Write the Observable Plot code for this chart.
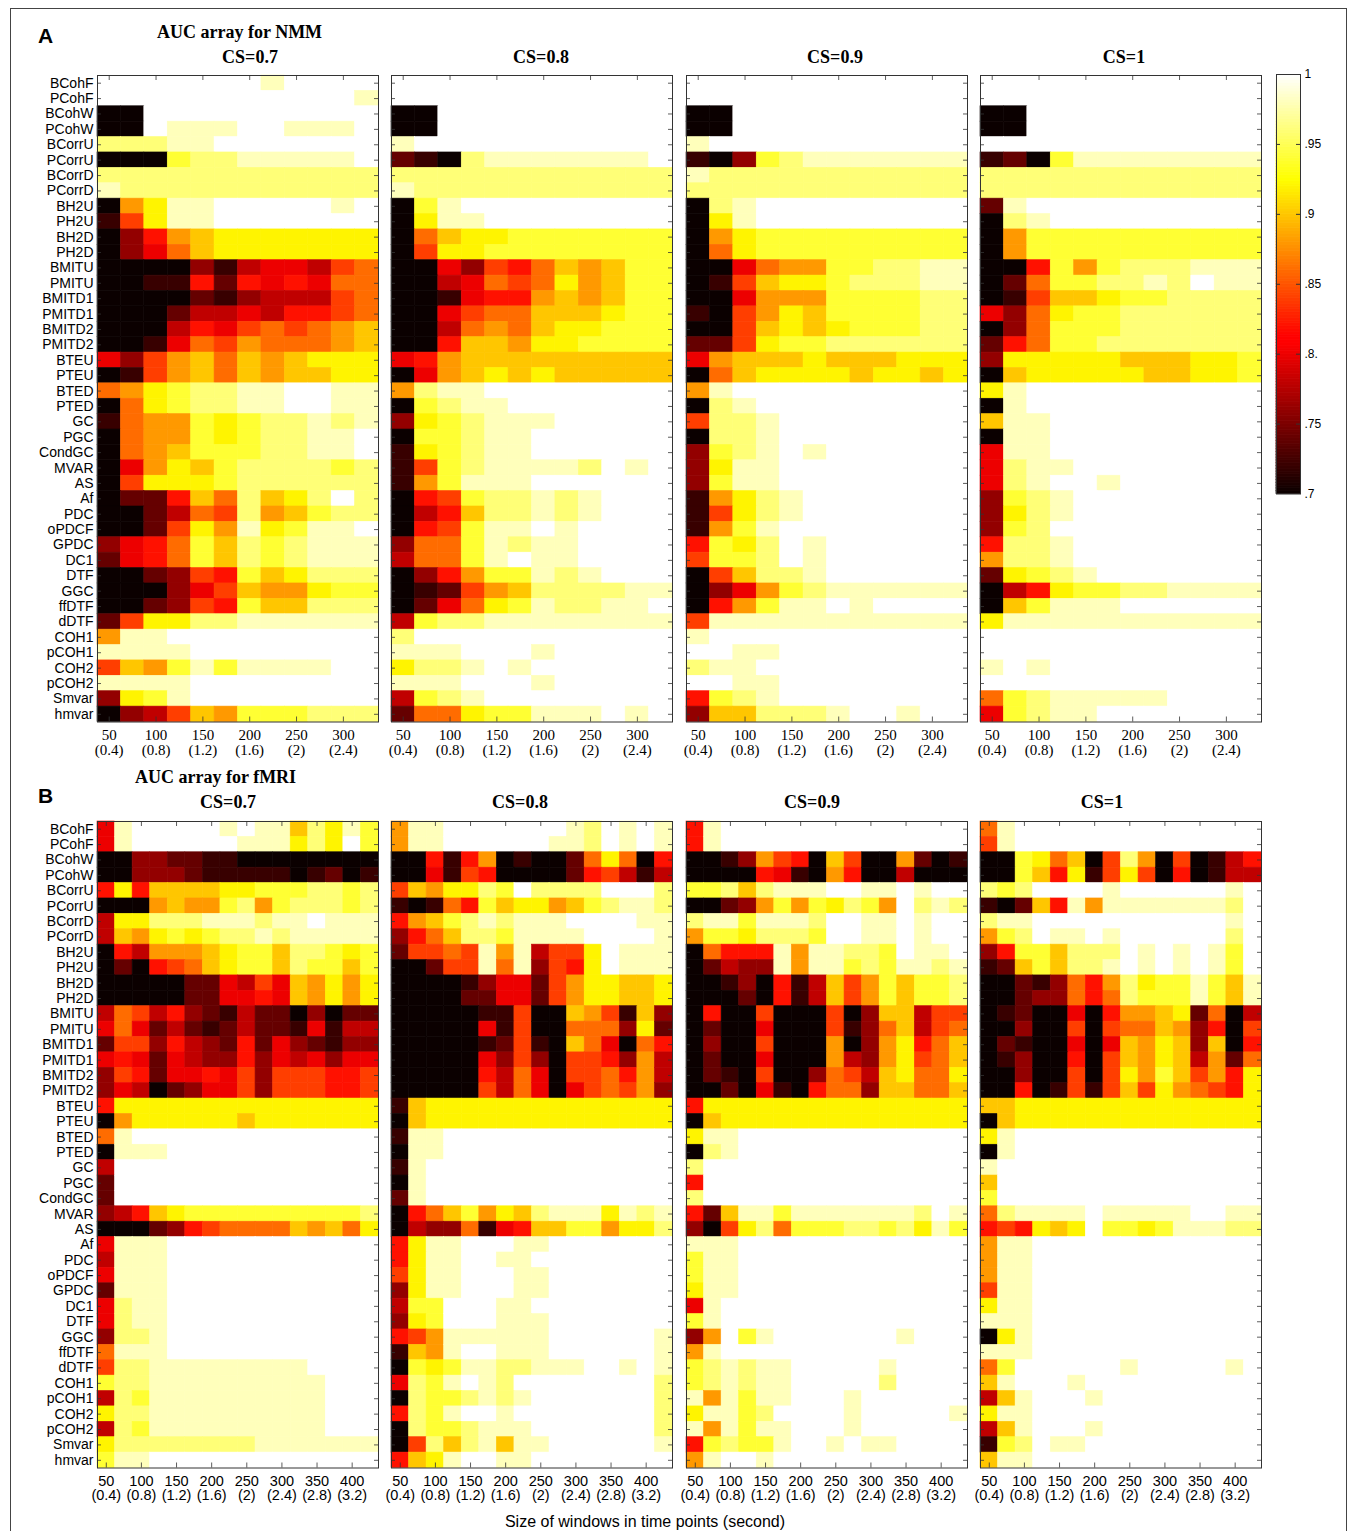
<!DOCTYPE html>
<html><head><meta charset="utf-8">
<script src="https://cdn.jsdelivr.net/npm/d3@7"></script>
<script src="https://cdn.jsdelivr.net/npm/@observablehq/plot@0.6"></script>
<style>
body{margin:0;background:#fff;}
#fig{position:relative;width:1356px;height:1531px;overflow:hidden;background:#fff;}
.abs{position:absolute;white-space:nowrap;line-height:1;}
.c{transform:translate(-50%,-50%);}
.l{transform:translate(0,-50%);}
.serifb{font-family:"Liberation Serif","Times New Roman",serif;font-weight:bold;}
.sans{font-family:"Liberation Sans",Arial,sans-serif;}
#border{position:absolute;left:10px;top:8px;width:1335px;height:1560px;border:1px solid #444;}
</style></head><body><div id="fig"><div id="border"></div></div>
<script>
// ---------------- data ----------------
const methods = ["BCohF","PCohF","BCohW","PCohW","BCorrU","PCorrU","BCorrD","PCorrD","BH2U","PH2U","BH2D","PH2D","BMITU","PMITU","BMITD1","PMITD1","BMITD2","PMITD2","BTEU","PTEU","BTED","PTED","GC","PGC","CondGC","MVAR","AS","Af","PDC","oPDCF","GPDC","DC1","DTF","GGC","ffDTF","dDTF","COH1","pCOH1","COH2","pCOH2","Smvar","hmvar"];
const csLevels = ["CS=0.7","CS=0.8","CS=0.9","CS=1"];
const winsA = [50,75,100,125,150,175,200,225,250,275,300,325];
const winsB = [50,75,100,125,150,175,200,225,250,275,300,325,350,375,400,425];
const ticksA = [50,100,150,200,250,300];
const ticksB = [50,100,150,200,250,300,350,400];
const secondsA = ["(0.4)","(0.8)","(1.2)","(1.6)","(2)","(2.4)"];
const secondsB = ["(0.4)","(0.8)","(1.2)","(1.6)","(2)","(2.4)","(2.8)","(3.2)"];
const cbTicks = [0.7,0.75,0.8,0.85,0.9,0.95,1];
const cbLabels = [".7",".75",".8.",".85",".9",".95","1"];
// AUC per cell, one hex digit per window: AUC = 0.70 + 0.02 * digit (0 -> .70, F -> 1.00)
const nmm07 = ["FFFFFFFEFFFF","FFFFFFFFFFFE","00FFFFFFFFFF","00FEEEFFEEEF","DDDEEFFFFFFF","000CDDEEEEEF","DDDDDDDDDDDD","EDDDDDDDDDDD","09BEEFFFFFEF","17BEEFFFFFFF","0369ABBBBBBB","0358ABBBBBBB","000031455478","001162656588","000021344478","000244546678","00046578789A","00158798889A","5379A8A9ABBB","0179A8A9AABB","89BCDDEEFFEE","08BCDDEEFFEE","1899CBCDDEDE","0899CBCDDEEF","089ACCCDDEEF","059BACDDDDCD","07BBBCDDDDDD","0226A8DABDFD","002487D9ACDD","0027B9EBCEEF","3568CADCDEEE","2568CADCDEEE","002376CABDDD","000357A99BCC","002376CAADDD","27BBDDEEEEEE","9EEFFFFFFFFF","EEEEFFFFFFFF","7A9CECEEEEFF","EEEEFFFFFFFF","3BCEFFFFFFFF","0347A9CCCDDD"];
const nmm08 = ["FFFFFFFFFFFF","FFFFFFFFFFFF","00FFFFFFFFFF","00FFFFFFFFFF","EFFFFFFFFFFF","210DEEEEEEEF","DDDDDDDDDDDD","EDDDDDDDDDDD","0CEFFFFFFFFF","0BEEFFFFFFFF","08ABBCCCCCCC","07BBCCCCCCCC","0053768A9ACC","0045878B9ACC","0015669A9ACC","005788AAABCC","004898ABBCCC","006AA9BBCCCC","569AAAAAAAAA","059ABABAAAAA","9DEEFFFFFFFF","0CDEEFFFFFFF","3BCDEEEFFFFF","0CCDEEFFFFFF","1BCDEEFFFFFF","17CDEEEEDFEF","19CEEEFFFFFF","067CDDEDEFFF","046ADDEDEFFF","067CEEFEFFFF","388CEDEEFFFF","488CEFEEFFFF","0369CCEDEFFF","01279ADDDDEE","0258BCEDDEEF","4CDDEEEEEEEE","DFFFFFFFFFFF","EEEFFFEFFFFF","BDDEFEFFFFFF","EEEFFFEFFFFF","4CDEFFFFFFFF","288BCCEEEFEF"];
const nmm09 = ["FFFFFFFFFFFF","FFFFFFFFFFFF","00FFFFFFFFFF","00FFFFFFFFFF","EFFFFFFFFFFF","103CDEEEEEEE","EDDDDDDDDDDD","DDDDDDDDDDDD","0DEFFFFFFFFF","0BEFFFFFFFFF","09BCCCCCCCCC","08BCCCCCCCCC","005899CCDDEE","017ABBCDDDEE","005999CCCCDD","1079BACCCCDD","007ABABCCCDD","227BCCDDDDDD","59AAABAAABBB","08ABBBBABBAB","9EFFFFFFFFFF","0DEFFFFFFFFF","7DDEFFFFFFFF","0DDEFFFFFFFF","3CDEFEFFFFFF","3BEEFFFFFFFF","3CEEFFFFFFFF","19BDEFFFFFFF","17BDEFFFFFFF","19CEFFFFFFFF","6CBDFEFFFFFF","7CCDFEFFFFFF","07ADDEFFFFFF","0359CDEEEEEE","069CEEFEFFFF","7EEEEEEEEEEE","EFFFFFFFFFFF","FFEEFFFFFFFF","DEEFFFFFFFFF","FFEEFFFFFFFF","6CDEFFFFFFFF","3AADDDEFFEFF"];
const nmm10 = ["FFFFFFFFFFFF","FFFFFFFFFFFF","00FFFFFFFFFF","00FFFFFFFFFF","FFFFFFFFFFFF","120CEEEEEEEE","DDDDDDDDDDDD","DDDDDDDDDDDD","2EFFFFFFFFFF","0DEFFFFFFFFF","09CCCCCCCCCC","09CCCCCCCCCC","006C9CDDDEEE","028CCDDEDFEE","017AABCCDDDD","538BCCDDDDDD","038CCCDDDDDD","268CCDDDDDDD","3BBBBBAAABBC","0ABBBBBAABBC","BEFFFFFFFFFF","0EFFFFFFFFFF","AEEFFFFFFFFF","0EEFFFFFFFFF","5EEFFFFFFFFF","5DEEFFFFFFFF","5DEFFEFFFFFF","3CDEFFFFFFFF","3BDEFFFFFFFF","3CDFFFFFFFFF","6DDEFFFFFFFF","9DDEFFFFFFFF","2BCDEFFFFFFF","046BCCDDEEEE","0ACEEEFFFFFF","BEEEEEEEEEEE","FFFFFFFFFFFF","FFFFFFFFFFFF","EFEFFFFFFFFF","FFFFFFFFFFFF","8CDEEEEEFFFF","5CDEEFFFFFFF"];
const fmri07 = ["5EFFFFFEFEEADBEC","5EFFFFFFEEEBDBFC","0033221100000000","0033321111101201","6B6AAAABBCCCDDCD","0009A99CD9CDDDCD","4BBDDDEEEDEEFEEE","4A9BCBCDDEDEEEEE","064999ABCCADDCBC","020678ABCCADCCAC","00000225475A9B9B","00000225565A9B9B","4874632142203022","5852421242215144","2773643262532133","5652543363545355","3762556573777667","3540235573777667","6BBBBBBBBBBBBBBB","09BBBBBBABBBBBBB","8EFFFFFFFFFFFFFF","0EEEFFFFFFFFFFFF","4FFFFFFFFFFFFFFF","2FFFFFFFFFFFFFFF","2FFFFFFFFFFFFFFF","346ABCCCCCCCCCCD","00023678888A9A8B","5EEEFFFFFFFFFFFF","4EEEFFFFFFFFFFFF","5EEEFFFFFFFFFFFF","2EEEFFFFFFFFFFFF","5DEEFFFFFFFFFFFF","5DEEFFFFFFFFFFFF","3DDEFFFFFFFFFFFF","8EEEFFFFFFFFFFFF","7DDEEEEEEEEEFFFF","CDDEEEEEEEEEEFFF","4DCEEEEEEEEEEFFF","BDDEEEEEEEEEEFFF","4DCEEEEEEEEEEFFF","BDDDDDDDDEEEEEEE","CEEFFFFFFFFFFFFF"];
const fmri08 = ["9EEFFFFFFFEDFEFE","9EEFFFFFFEEDFEFE","006169010028B806","0051760000267414","7A9BBDCFDDDDFFFD","10186CABB9ACDEED","69ACDEDEEEFFFFEE","368ADDCEEEEFFFFE","27787E9E477BFEEE","00277E8E376BFEEE","00001355279BBAAB","00002255279BBAAB","0000011700A971A3","00000517008883B2","0000012710A85086","0000053730776394","0000064850778694","0000074850578793","1ABBBBBBBBBBBBBB","0ABBBBBBBBBBBBBB","1EEFFFFFFFFFFFFF","0EEFFFFFFFFFFFFF","1EFFFFFFFFFFFFFF","0EFFFFFFFFFFFFFF","2EFFFFFFFFFFFFFF","068AC9BADEEEBEDE","04338156AACC9BBD","6BEEFFFEEFFFFFFF","6BEEFFEEFFFFFFFF","7BEEFFFEEFFFFFFF","3BEEFFFEEFFFFFFF","4CCFFFEEFFFFFFFF","3BCFFFEEEFFFFFFF","679EEEEEEFFFFFFE","1A9EFFEEEFFFFFFE","0CBCEEDDEEEFFEFE","5DCEFEDFFFFFFFFD","0DCCDEDEFFFFFFFD","6DCEFFEFFFFFFFFD","0DCCDEEEFFFFFFFD","07DADEAEEFFFFFFE","6ABEFFEEFFFFFFFF"];
const fmri09 = ["6EFFFFFFFFFFFFFF","6EFFFFFFFFFFFFFF","00139760A7009201","0000651096004000","CCDADEEEFFEEFEFF","00239C9CBDC9FDED","DEECEEEDFFEEFEFF","9CCBDDDCFFEEFEFF","08666E9EEDDCFEEF","02433E9EECDCEEDE","00130614A79CACCD","00020614A79CACCD","06007000703AA477","020050007138A478","030070009039B68A","020050009439B78A","02107003874AB88B","00205106883AA88A","6BBBBBBBBBBBBBBB","0ABBBBBBBBBBBBBB","BEEFFFFFFFFFFFFF","0DEFFFFFFFFFFFFF","DFFFFFFFFFFFFFFF","6FFFFFFFFFFFFFFF","DFFFFFFFFFFFFFFF","62AEECEEEEEEEDFE","307BD8CCCDDCDBEC","EEEFFFFFFFFFFFFF","CEEFFFFFFFFFFFFF","CEEFFFFFFFFFFFFF","BEEFFFFFFFFFFFFF","5EFFFFFFFFFFFFFF","CEFFFFFFFFFFFFFF","39FCEFFFFFFFEFFF","9EFFFFFFFFFFFFFF","CDEDEEFFFFFEFFFF","CDEDEEFFFFFDFFFF","E9ECEEFFFEFFFFFF","BEECDFFFFEFFFFFE","E9ECEEFFFEFFFFFF","6CDCCEFFEFEEFFFF","9EFFEFFFFFFFFFFF"];
const fmri10 = ["8EFFFFFFFFFFFFFF","7EFFFFFFFFFFFFFF","00CB8A07D9070146","00CA6B17B7060144","DCDFFFFEFFFFFFEF","102A6E9EEEEEEEDF","DEEFFFFFFFFFFFEF","9CDFEEFEFFFFFFDF","36CCADDDFEFEFECF","12ACADDEFEFEFECF","00213869DBCCECAE","00233868DCCCECAE","0120050699AB2804","0030070788A93607","02100505A9BA3A06","01300607A9BA4928","00300707B9CA796B","00601717A7B9876B","AABBBBBBBBBBBBBB","0ABBBBBBBBBBBBBB","BEFFFFFFFFFFFFFF","0EFFFFFFFFFFFFFF","EFFFFFFFFFFFFFFF","AFFFFFFFFFFFFFFF","CFFFFFFFFFFFFFFF","8DEEEEFEEEEEFFEE","676BABFCCBCEEEDD","9EEFFFFFFFFFFFFF","9EEFFFFFFFFFFFFF","9EEFFFFFFFFFFFFF","7EEFFFFFFFFFFFFF","BEEFFFFFFFFFFFFF","EEEFFFFFFFFFFFFF","0BEFFFFFFFFFFFFF","EEEFFFFFFFFFFFFF","8CFFFFFFEFFFFFEF","AEFFFEFFFFFFFFFF","4AEFFFEFFFFFFFFF","BEEFFFFFFFFFFFFF","4AEFFFEFFFFFFFFF","1CDFEEFFFFFFFFFF","AEEFFFFFFFFFFFFF"];

// ---------------- helpers ----------------
const hot = t => {
  t = Math.max(0, Math.min(1, t));
  const r = Math.min(1, 0.0417 + t / 0.375);
  const g = Math.max(0, Math.min(1, (t - 0.375) / 0.375));
  const b = Math.max(0, Math.min(1, (t - 0.75) / 0.25));
  return `rgb(${Math.round(r * 255)},${Math.round(g * 255)},${Math.round(b * 255)})`;
};
const colorScale = {type: "linear", domain: [0.7, 1], interpolate: hot, clamp: true};
const decode = ch => 0.7 + parseInt(ch, 16) * 0.02;
const cells = (codes, wins) => codes.flatMap((s, i) =>
  Array.from(s, (ch, j) => ({method: methods[i], win: wins[j], auc: decode(ch)})));

const fig = document.getElementById("fig");
function place(el, left, top) {
  const d = document.createElement("div");
  d.style.position = "absolute"; d.style.left = left + "px"; d.style.top = top + "px";
  d.appendChild(el); fig.appendChild(d);
}
function text(str, x, y, cls, size, anchor) {
  const d = document.createElement("div");
  d.className = "abs " + cls + " " + (anchor || "c");
  d.style.left = x + "px"; d.style.top = y + "px"; d.style.fontSize = size + "px";
  d.textContent = str; fig.appendChild(d);
  return d;
}

const PW = 281, PH = 646.5;
function heat(codes, wins, ticks, secs, tickFont, tickSize, first) {
  const half = (wins[1] - wins[0]) / 2;
  const mL = first ? 97 : 4, mR = 4, mT = 5, mB = 45;
  const marks = [
    Plot.barX(cells(codes, wins), {y: "method", x1: d => d.win - half, x2: d => d.win + half,
      fill: "auc", stroke: "auc", strokeWidth: 0.6}),
    Plot.frame({stroke: "#333", strokeWidth: 1}),
    Plot.tickY(methods, {y: d => d, insetRight: PW - 4, stroke: "#333", strokeWidth: 0.8}),
    Plot.tickY(methods, {y: d => d, insetLeft: PW - 4, stroke: "#333", strokeWidth: 0.8}),
    Plot.tickX(ticks, {x: d => d, insetBottom: PH - 5, stroke: "#333", strokeWidth: 0.8}),
    Plot.tickX(ticks, {x: d => d, insetTop: PH - 5, stroke: "#333", strokeWidth: 0.8}),
    Plot.axisX({ticks, tickFormat: d => d + "\n" + secs[ticks.indexOf(d)], tickSize: 0, tickPadding: 7,
      fontSize: tickSize, fontFamily: tickFont, lineHeight: 1.02, label: null})
  ];
  if (first) marks.push(Plot.axisY({tickSize: 0, tickPadding: 4, fontSize: 14,
    fontFamily: "Liberation Sans, Arial, sans-serif", label: null}));
  const svg = Plot.plot({
    width: mL + PW + mR, height: mT + PH + mB,
    marginLeft: mL, marginRight: mR, marginTop: mT, marginBottom: mB,
    style: {background: "transparent", color: "#000", overflow: "visible"},
    x: {domain: [wins[0] - half, wins[wins.length - 1] + half]},
    y: {type: "band", domain: methods, padding: 0, round: false, axis: first ? undefined : null},
    color: colorScale,
    marks
  });
  return {svg, mL, mT};
}

const x0s = [97, 391.3, 685.6, 979.9];
const panels = [
  {y0: 75.2, data: [nmm07, nmm08, nmm09, nmm10], wins: winsA, ticks: ticksA, secs: secondsA,
   font: "Liberation Serif, Times New Roman, serif", size: 15},
  {y0: 820.5, data: [fmri07, fmri08, fmri09, fmri10], wins: winsB, ticks: ticksB, secs: secondsB,
   font: "Liberation Sans, Arial, sans-serif", size: 14.5}
];
panels.forEach(p => {
  p.data.forEach((codes, i) => {
    const {svg, mL, mT} = heat(codes, p.wins, p.ticks, p.secs, p.font, p.size, i === 0);
    place(svg, x0s[i] - mL, p.y0 - mT);
  });
});

// colour bar
const cbStops = d3.range(0.7, 1, 0.002);
const cbW = 24, cbH = 419.5;
const cb = Plot.plot({
  width: 1 + cbW + 34, height: cbH + 10, marginLeft: 1, marginRight: 34, marginTop: 5, marginBottom: 5,
  style: {background: "transparent", color: "#000", overflow: "visible"},
  x: {domain: [0, 1], axis: null},
  y: {domain: [0.7, 1]},
  color: colorScale,
  marks: [
    Plot.rect(cbStops, {x1: 0, x2: 1, y1: d => d, y2: d => d + 0.002, fill: d => d + 0.001,
      stroke: d => d + 0.001, strokeWidth: 0.8}),
    Plot.frame({stroke: "#333"}),
    Plot.tickY(cbTicks.slice(1, -1), {y: d => d, insetLeft: cbW - 4, stroke: "#333"}),
    Plot.tickY(cbTicks.slice(1, -1), {y: d => d, insetRight: cbW - 4, stroke: "#333"}),
    Plot.axisY({anchor: "right", ticks: cbTicks, tickFormat: d => cbLabels[cbTicks.indexOf(d)],
      tickSize: 0, tickPadding: 4, fontSize: 12, fontFamily: "Liberation Sans, Arial, sans-serif", label: null})
  ]
});
place(cb, 1276 - 1, 74 - 5);

// titles
text("A", 38, 35, "sans l", 21).style.fontWeight = "bold";
text("AUC array for NMM", 157, 32, "serifb l", 18);
[250, 541, 835, 1124].forEach((x, i) => text(csLevels[i], x, 57, "serifb", 18));
text("B", 38, 795, "sans l", 21).style.fontWeight = "bold";
text("AUC array for fMRI", 135, 777, "serifb l", 18);
[228, 520, 812, 1102].forEach((x, i) => text(csLevels[i], x, 802, "serifb", 18));
text("Size of windows in time points (second)", 645, 1522, "sans", 16);
</script></body></html>
